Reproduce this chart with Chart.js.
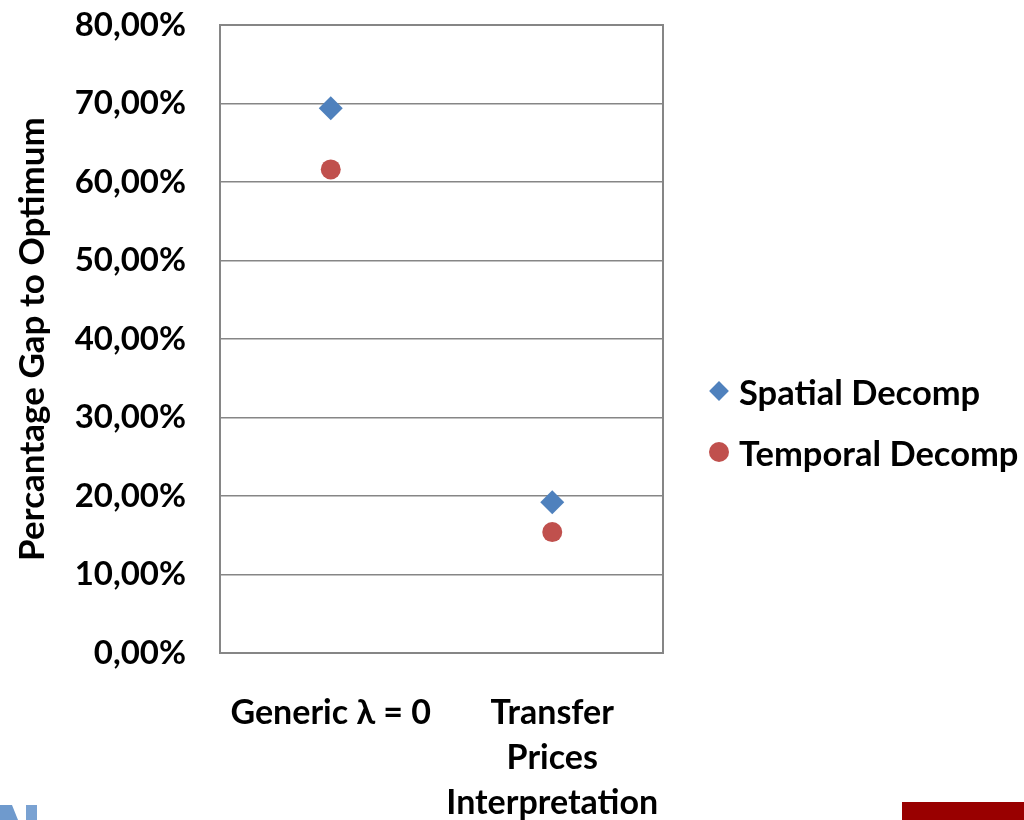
<!DOCTYPE html>
<html>
<head>
<meta charset="utf-8">
<script src="https://cdn.jsdelivr.net/npm/chart.js@4.4.1/dist/chart.umd.min.js"></script>
<style>
  html, body { margin: 0; padding: 0; background: #ffffff; }
  #wrap { position: relative; width: 1024px; height: 820px; overflow: hidden; }
  #chart { position: absolute; left: 0; top: 0; }
  #legend { position: absolute; left: 709px; top: 0; font-family: Lato, "Open Sans", sans-serif; font-weight: bold; font-size: 34.5px; color: #000; }
  .item { position: absolute; left: 0; display: flex; align-items: center; white-space: nowrap; height: 40px; }
  .mark { width: 20px; height: 20px; margin-right: 10px; flex: none; }
  .diamond { width: 14px; height: 14px; margin: 3px 13px 3px 3px; transform: rotate(45deg); }
  .dot { border-radius: 50%; }
  .logo-a { position: absolute; left: 0; top: 805px; width: 18px; height: 15px; background: #6f9acd; clip-path: polygon(0 0, 12px 0, 18px 15px, 0 15px); }
  .logo-n { position: absolute; left: 26px; top: 805px; width: 11px; height: 15px; background: #7aa2d2; }
  .band { position: absolute; left: 902px; top: 802px; width: 122px; height: 18px; background: #990000; }
</style>
</head>
<body>
<div id="wrap">
  <canvas id="chart" width="1024" height="820"></canvas>
  <div id="legend"></div>
  <div class="logo-a"></div>
  <div class="logo-n"></div>
  <div class="band"></div>
</div>
<script>
// Categories on the x axis (the second one wraps over three lines)
const categories = ['Generic \u03bb = 0', ['Transfer', 'Prices', 'Interpretation']];

// Percentage gap to the optimum for each decomposition
const spatialDecomp = [69.4, 19.2];
const temporalDecomp = [61.6, 15.4];

// Y axis tick values (percent)
const yTickValues = [0, 10, 20, 30, 40, 50, 60, 70, 80];

const seriesNames = ['Spatial Decomp', 'Temporal Decomp'];
const seriesColors = ['#4F81BD', '#C0504D'];

const FONT = 'Lato, "Open Sans", sans-serif';

// Grey frame around the plotting area
const frame = {
  id: 'frame',
  beforeDatasetsDraw(chart) {
    const { ctx, chartArea: a } = chart;
    ctx.save();
    ctx.strokeStyle = '#868686';
    ctx.lineWidth = 2;
    ctx.strokeRect(a.left, a.top, a.right - a.left, a.bottom - a.top);
    ctx.restore();
  }
};

const chart = new Chart(document.getElementById('chart'), {
  type: 'line',
  data: {
    labels: categories,
    datasets: [
      {
        label: seriesNames[0],
        data: spatialDecomp,
        showLine: false,
        pointStyle: 'rectRot',
        pointRadius: 12,
        pointBorderWidth: 0,
        backgroundColor: seriesColors[0],
        borderColor: seriesColors[0]
      },
      {
        label: seriesNames[1],
        data: temporalDecomp,
        showLine: false,
        pointStyle: 'circle',
        pointRadius: 10,
        pointBorderWidth: 0,
        backgroundColor: seriesColors[1],
        borderColor: seriesColors[1]
      }
    ]
  },
  options: {
    responsive: false,
    animation: false,
    devicePixelRatio: 1,
    layout: { autoPadding: false, padding: { left: 0, top: 25, right: 361, bottom: 0 } },
    plugins: {
      legend: { display: false },
      tooltip: { enabled: false }
    },
    scales: {
      x: {
        type: 'category',
        offset: true,
        grid: { display: false, drawTicks: false },
        border: { display: false },
        ticks: {
          autoSkip: false,
          maxRotation: 0,
          color: '#000',
          padding: 38,
          font: { family: FONT, weight: 'bold', size: 34, lineHeight: 1.32 }
        },
        afterFit(scale) {
          scale.height = 167;
          scale.paddingLeft = 0;
          scale.paddingRight = 0;
        }
      },
      y: {
        min: 0,
        max: 80,
        afterBuildTicks(scale) { scale.ticks = yTickValues.map(v => ({ value: v })); },
        grid: { color: '#868686', lineWidth: 1.5, drawTicks: false },
        border: { display: false },
        ticks: {
          color: '#000',
          padding: 34,
          font: { family: FONT, weight: 'bold', size: 33 },
          callback: v => v.toFixed(2).replace('.', ',') + '%'
        },
        title: {
          display: true,
          text: 'Percantage Gap to Optimum',
          color: '#000',
          font: { family: FONT, weight: 'bold', size: 35 },
          padding: { top: 12, bottom: 0 }
        },
        afterFit(scale) {
          scale.width = 220;
          scale.paddingTop = 0;
          scale.paddingBottom = 0;
        }
      }
    }
  },
  plugins: [frame]
});

// Legend to the right of the plot, built from the datasets
const legend = document.getElementById('legend');
const rowCenters = [391, 452];
chart.data.datasets.forEach((ds, i) => {
  const item = document.createElement('div');
  item.className = 'item';
  item.style.top = (rowCenters[i] - 20) + 'px';
  const mark = document.createElement('span');
  mark.className = 'mark ' + (ds.pointStyle === 'rectRot' ? 'diamond' : 'dot');
  mark.style.background = ds.backgroundColor;
  const text = document.createElement('span');
  text.textContent = ds.label;
  item.appendChild(mark);
  item.appendChild(text);
  legend.appendChild(item);
});
</script>
</body>
</html>
